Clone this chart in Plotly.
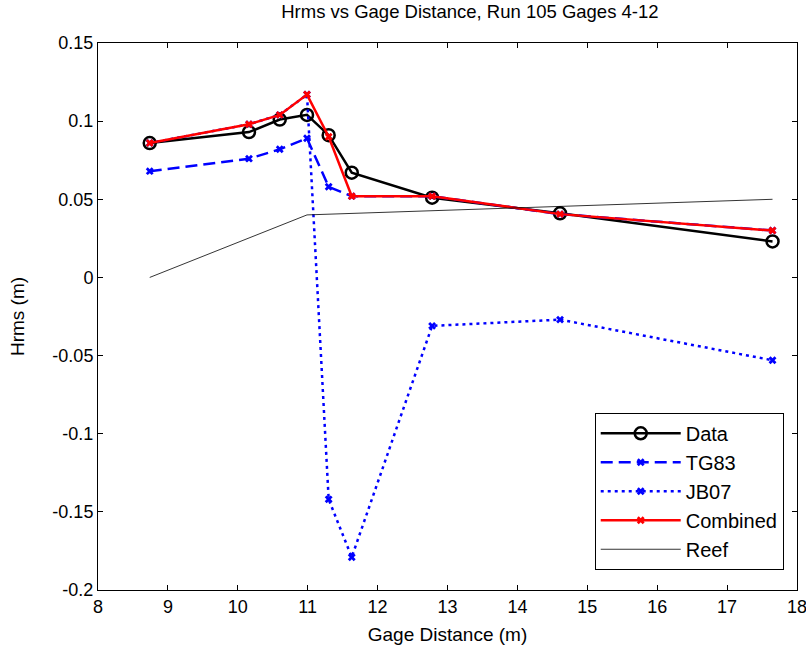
import plotly.graph_objects as go

# Gage positions along the flume (m)
gage_x = [8.74, 10.16, 10.6, 10.99, 11.3, 11.63, 12.78, 14.61, 17.65]

# Measured and modelled Hrms (m)
hrms_data = [0.086, 0.093, 0.101, 0.104, 0.091, 0.067, 0.051, 0.041, 0.023]
hrms_tg83 = [0.068, 0.076, 0.082, 0.089, 0.058, 0.052, 0.052, 0.0405, 0.030]
hrms_jb07 = [0.086, 0.098, 0.104, 0.117, -0.142, -0.179, -0.031, -0.027, -0.053]
hrms_combined = [0.086, 0.098, 0.104, 0.117, 0.090, 0.052, 0.052, 0.0405, 0.030]

# Reef profile
reef_x = [8.74, 10.99, 17.65]
reef_y = [0.0, 0.04, 0.05]

# Axis ticks
x_ticks = [8, 9, 10, 11, 12, 13, 14, 15, 16, 17, 18]
y_ticks = [0.15, 0.1, 0.05, 0, -0.05, -0.1, -0.15, -0.2]
y_tick_text = ["0.15", "0.1", "0.05", "0", "-0.05", "-0.1", "-0.15", "-0.2"]

FONT = "Liberation Sans, Arial, Helvetica, sans-serif"

fig = go.Figure()

fig.add_trace(go.Scatter(
    x=gage_x, y=hrms_data, name="Data", mode="lines+markers", legendgroup="a",
    line=dict(color="black", width=2.5),
    marker=dict(symbol="circle-open", size=12, color="black", line=dict(width=2.5)),
))
fig.add_trace(go.Scatter(
    x=gage_x, y=hrms_tg83, name="TG83", mode="lines+markers", legendgroup="b",
    line=dict(color="#0000ff", width=2.5, dash="12px,6px"),
    marker=dict(symbol="x", size=7, color="#0000ff"),
))
fig.add_trace(go.Scatter(
    x=gage_x, y=hrms_jb07, name="JB07", mode="lines+markers", legendgroup="c",
    line=dict(color="#0000ff", width=2.5, dash="3px,4px"),
    marker=dict(symbol="x", size=7, color="#0000ff"),
))
fig.add_trace(go.Scatter(
    x=gage_x, y=hrms_combined, name="Combined", mode="lines+markers", legendgroup="d",
    line=dict(color="#ff0000", width=2.5),
    marker=dict(symbol="x", size=7, color="#ff0000"),
))
fig.add_trace(go.Scatter(
    x=reef_x, y=reef_y, name="Reef", mode="lines", legendgroup="e",
    line=dict(color="black", width=0.8),
))

axis_common = dict(
    showline=True, linecolor="black", linewidth=1, mirror="allticks",
    ticks="inside", ticklen=5, tickcolor="black", showgrid=False, zeroline=False,
    tickfont=dict(family=FONT, size=18, color="black"),
    ticklabeloverflow="allow", automargin=False,
)

fig.update_layout(
    width=806, height=650,
    margin=dict(l=98, r=9, t=43, b=60),
    paper_bgcolor="white", plot_bgcolor="white",
    font=dict(family=FONT, size=18, color="black"),
    title=dict(text="Hrms vs Gage Distance, Run 105 Gages 4-12", x=0.583, xanchor="center",
               y=0.993, yanchor="top", font=dict(size=18.5)),
    xaxis=dict(range=[8, 18], tickvals=x_ticks,
               title=dict(text="Gage Distance (m)", font=dict(size=19), standoff=12), **axis_common),
    yaxis=dict(range=[-0.2, 0.15], tickvals=y_ticks, ticktext=y_tick_text,
               title=dict(text="Hrms (m)", font=dict(size=19), standoff=22), **axis_common),
    legend=dict(x=0.981, xanchor="right", y=0.037, yanchor="bottom",
                bgcolor="white", bordercolor="black", borderwidth=1,
                font=dict(family=FONT, size=20), tracegroupgap=0, itemwidth=80),
    showlegend=True,
)

fig.write_html("out.html")
